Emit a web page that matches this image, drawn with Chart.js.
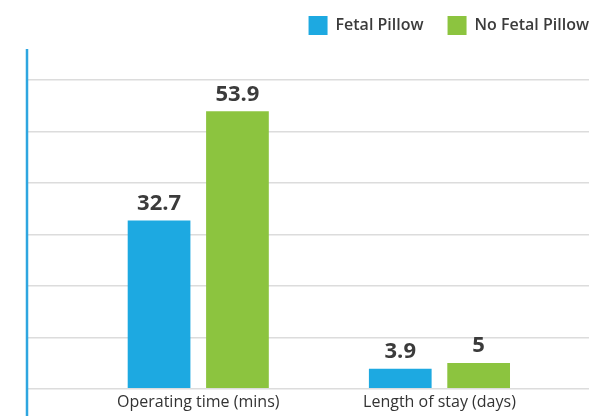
<!DOCTYPE html>
<html>
<head>
<meta charset="utf-8">
<script src="https://cdn.jsdelivr.net/npm/chart.js@4/dist/chart.umd.min.js"></script>
<style>
html,body{margin:0;padding:0;background:#fff;}
#wrap{width:589px;height:416px;}
</style>
</head>
<body>
<div id="wrap"><canvas id="c" width="589" height="416"></canvas></div>
<script>
const categories = ['Operating time (mins)', 'Length of stay (days)'];
const seriesNames = ['Fetal Pillow', 'No Fetal Pillow'];
const fetalPillow = [32.7, 3.9];
const noFetalPillow = [53.9, 5];
const gridTicks = [0, 10, 20, 30, 40, 50, 60];

const BLUE = '#1DA9E1';
const GREEN = '#8CC43F';
const AXIS_BLUE = '#2EA6E0';
const TEXT = '#3b3b3b';
const FONT = "'Open Sans', 'Noto Sans', sans-serif";
const LEGEND_PAD = 24;

const toPoints = arr => arr.map((v, i) => ({ x: i + 1, y: v }));

const valueLabels = {
  id: 'valueLabels',
  afterDatasetsDraw(chart) {
    const ctx = chart.ctx;
    ctx.save();
    ctx.font = "bold 22px " + FONT;
    ctx.fillStyle = TEXT;
    ctx.textAlign = 'center';
    ctx.textBaseline = 'bottom';
    chart.data.datasets.forEach((ds, di) => {
      chart.getDatasetMeta(di).data.forEach((bar, i) => {
        ctx.fillText(String(ds.data[i].y), bar.x, bar.y - 6);
      });
    });
    ctx.restore();
  }
};

const legendSpacing = {
  id: 'legendSpacing',
  beforeInit(chart) {
    const orig = chart.legend.fit;
    chart.legend.fit = function () {
      orig.call(this);
      this.height += 4 - (LEGEND_PAD - 10);
    };
  },
  beforeDraw(chart) {
    chart.legend.top -= (LEGEND_PAD - 10);
    chart.legend.left += 24;
    chart.legend.right += 24;
  }
};

const axisExtend = {
  id: 'axisExtend',
  afterDraw(chart) {
    const ctx = chart.ctx;
    const a = chart.chartArea;
    ctx.save();
    ctx.strokeStyle = AXIS_BLUE;
    ctx.lineWidth = 2.5;
    ctx.beginPath();
    ctx.moveTo(a.left, a.top);
    ctx.lineTo(a.left, chart.height);
    ctx.stroke();
    ctx.restore();
  }
};

new Chart(document.getElementById('c'), {
  type: 'bar',
  data: {
    datasets: [
      { label: seriesNames[0], data: toPoints(fetalPillow), backgroundColor: BLUE, borderWidth: 0 },
      { label: seriesNames[1], data: toPoints(noFetalPillow), backgroundColor: GREEN, borderWidth: 0 }
    ]
  },
  options: {
    responsive: false,
    animation: false,
    events: [],
    categoryPercentage: 0.65,
    barPercentage: 0.8,
    layout: { padding: { top: 6, left: 27, right: 0, bottom: 0 } },
    plugins: {
      legend: {
        position: 'top',
        align: 'end',
        labels: {
          boxWidth: 19,
          boxHeight: 19,
          padding: LEGEND_PAD,
          color: TEXT,
          font: { family: FONT, size: 16, weight: '600' }
        }
      },
      tooltip: { enabled: false }
    },
    scales: {
      x: {
        type: 'linear',
        offset: false,
        min: 0.29,
        max: 2.62,
        afterBuildTicks: s => { s.ticks = categories.map((c, i) => ({ value: i + 1 })); },
        grid: { display: false, offset: false, drawTicks: false },
        border: { display: false },
        ticks: {
          callback: (v) => categories[Math.round(v) - 1] || '',
          color: '#333',
          padding: 4,
          maxRotation: 0,
          autoSkip: false,
          font: { family: FONT, size: 16, weight: '500' }
        }
      },
      y: {
        min: 0,
        max: 66,
        afterBuildTicks: s => { s.ticks = gridTicks.map(v => ({ value: v })); },
        ticks: { display: false },
        grid: { color: '#dcdcdc', lineWidth: 1.5, drawTicks: false },
        border: { display: false }
      }
    }
  },
  plugins: [valueLabels, legendSpacing, axisExtend]
});
</script>
</body>
</html>
